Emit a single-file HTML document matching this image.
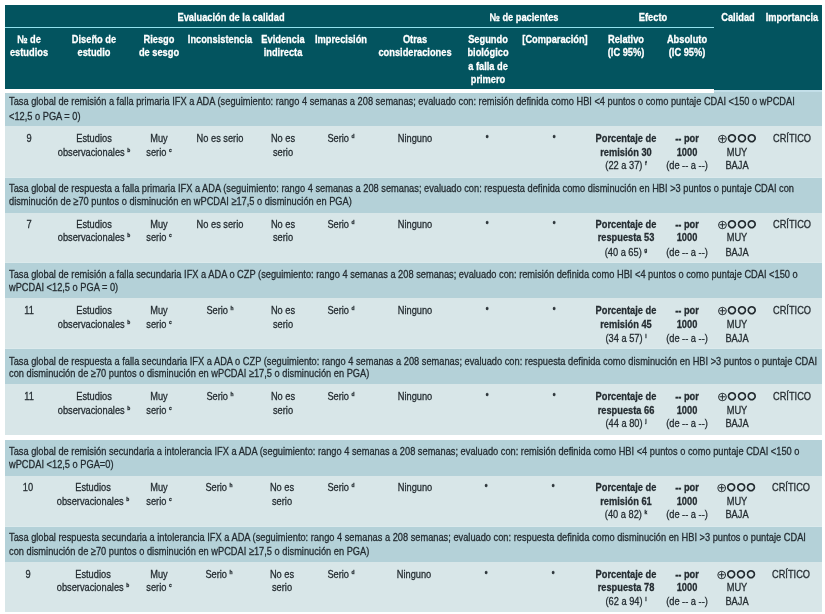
<!DOCTYPE html>
<html lang="es"><head><meta charset="utf-8"><title>Tabla</title>
<style>
html,body{margin:0;padding:0;background:#fff;}
body{width:825px;height:614px;position:relative;overflow:hidden;font-family:"Liberation Sans",Arial,sans-serif;font-size:11.3px;line-height:13px;-webkit-text-stroke:0.3px #242c31;color:#242c31;}
.r{position:absolute;}
.c{position:absolute;height:13px;text-align:center;transform:scaleX(0.82);transform-origin:50% 0;white-space:nowrap;}
.h{color:#fff;font-weight:bold;-webkit-text-stroke:0.3px #fff;}
.cap{position:absolute;width:1100px;height:13px;transform:scaleX(0.82);transform-origin:0 0;white-space:nowrap;}
sup{font-size:6px;line-height:0;vertical-align:4.2px;font-weight:bold;}
.sym{position:absolute;width:80px;height:20px;line-height:20px;text-align:center;white-space:nowrap;font-family:"DejaVu Sans",sans-serif;-webkit-text-stroke:0;}
.op{font-size:12.9px;letter-spacing:-0.1px;}
.oc{position:relative;top:-1.6px;font-size:10.1px;letter-spacing:1.1px;-webkit-text-stroke:1.05px #242c31;}
</style></head>
<body>
<div class="r" style="left:5.2px;top:5.0px;width:817.2px;height:83.8px;background:#03545f"></div>
<div class="r" style="left:714.2px;top:88.0px;width:108.2px;height:1.7px;background:#03545f"></div>
<div class="r" style="left:5.2px;top:26.7px;width:709.2px;height:1.4px;background:#93e2ee"></div>
<div class="r" style="left:714.2px;top:89.8px;width:108.2px;height:2.6px;background:#c3dfe9"></div>
<div class="c h" style="left:81.3px;top:11px;width:300px">Evaluación de la calidad</div>
<div class="c h" style="left:424.2px;top:11px;width:200px">№ de pacientes</div>
<div class="c h" style="left:603.1px;top:11px;width:100px">Efecto</div>
<div class="c h" style="left:667.5px;top:11px;width:140px">Calidad</div>
<div class="c h" style="left:721.8px;top:11px;width:140px">Importancia</div>
<div class="c h" style="left:-40.9px;top:33px;width:140px">№ de</div>
<div class="c h" style="left:-40.9px;top:46px;width:140px">estudios</div>
<div class="c h" style="left:23.8px;top:33px;width:140px">Diseño de</div>
<div class="c h" style="left:23.8px;top:46px;width:140px">estudio</div>
<div class="c h" style="left:89.3px;top:33px;width:140px">Riesgo</div>
<div class="c h" style="left:89.3px;top:46px;width:140px">de sesgo</div>
<div class="c h" style="left:150.0px;top:33px;width:140px">Inconsistencia</div>
<div class="c h" style="left:212.5px;top:33px;width:140px">Evidencia</div>
<div class="c h" style="left:212.5px;top:46px;width:140px">indirecta</div>
<div class="c h" style="left:271.3px;top:33px;width:140px">Imprecisión</div>
<div class="c h" style="left:345.2px;top:33px;width:140px">Otras</div>
<div class="c h" style="left:345.2px;top:46px;width:140px">consideraciones</div>
<div class="c h" style="left:417.6px;top:33px;width:140px">Segundo</div>
<div class="c h" style="left:417.6px;top:46px;width:140px">biológico</div>
<div class="c h" style="left:417.6px;top:60px;width:140px">a falla de</div>
<div class="c h" style="left:417.6px;top:73px;width:140px">primero</div>
<div class="c h" style="left:484.6px;top:33px;width:140px">[Comparación]</div>
<div class="c h" style="left:556.3px;top:33px;width:140px">Relativo</div>
<div class="c h" style="left:556.3px;top:46px;width:140px">(IC 95%)</div>
<div class="c h" style="left:617.4px;top:33px;width:140px">Absoluto</div>
<div class="c h" style="left:617.4px;top:46px;width:140px">(IC 95%)</div>
<div class="r" style="left:5.2px;top:92.2px;width:817.2px;height:343.1px;background:#dceaec"></div>
<div class="r" style="left:5.2px;top:440.0px;width:817.2px;height:171.7px;background:#dceaec"></div>
<div class="r" style="left:5.2px;top:92.2px;width:817.2px;height:34.1px;background:#b4d1d8"></div>
<div class="r" style="left:5.2px;top:126.3px;width:817.2px;height:50.5px;background:#d8e6e8"></div>
<div class="cap" style="left:9.3px;top:95px">Tasa global de remisión a falla primaria IFX a ADA (seguimiento: rango 4 semanas a 208 semanas; evaluado con: remisión definida como HBI &lt;4 puntos o como puntaje CDAI &lt;150 o wPCDAI</div>
<div class="cap" style="left:9.3px;top:110px">&lt;12,5 o PGA = 0)</div>
<div class="c " style="left:-40.9px;top:132px;width:140px">9</div>
<div class="c " style="left:23.8px;top:132px;width:140px">Estudios</div>
<div class="c " style="left:23.8px;top:146px;width:140px">observacionales <sup>b</sup></div>
<div class="c " style="left:89.3px;top:132px;width:140px">Muy</div>
<div class="c " style="left:89.3px;top:146px;width:140px">serio <sup>c</sup></div>
<div class="c " style="left:150.0px;top:132px;width:140px">No es serio</div>
<div class="c " style="left:212.5px;top:132px;width:140px">No es</div>
<div class="c " style="left:212.5px;top:146px;width:140px">serio</div>
<div class="c " style="left:271.3px;top:132px;width:140px">Serio <sup>d</sup></div>
<div class="c " style="left:345.2px;top:132px;width:140px">Ninguno</div>
<div class="c " style="left:417.0px;top:132px;width:140px"><sup>e</sup></div>
<div class="c " style="left:483.9px;top:132px;width:140px"><sup>e</sup></div>
<div class="c " style="left:556.3px;top:132px;width:140px"><b>Porcentaje de</b></div>
<div class="c " style="left:556.3px;top:146px;width:140px"><b>remisión 30</b></div>
<div class="c " style="left:556.3px;top:159px;width:140px">(22 a 37) <sup>f</sup></div>
<div class="c " style="left:617.4px;top:132px;width:140px"><b>-- por</b></div>
<div class="c " style="left:617.4px;top:146px;width:140px"><b>1000</b></div>
<div class="c " style="left:617.4px;top:159px;width:140px">(de -- a --)</div>
<div class="c " style="left:667.3px;top:146px;width:140px">MUY</div>
<div class="c " style="left:667.3px;top:159px;width:140px">BAJA</div>
<div class="sym" style="left:697.25px;top:128.8px"><span class="op">⊕</span><span class="oc">○○○</span></div>
<div class="c " style="left:721.6px;top:132px;width:140px">CRÍTICO</div>
<div class="r" style="left:5.2px;top:177.6px;width:817.2px;height:35.1px;background:#b4d1d8"></div>
<div class="r" style="left:5.2px;top:212.7px;width:817.2px;height:49.8px;background:#d8e6e8"></div>
<div class="cap" style="left:9.3px;top:182px">Tasa global de respuesta a falla primaria IFX a ADA (seguimiento: rango 4 semanas a 208 semanas; evaluado con: respuesta definida como disminución en HBI &gt;3 puntos o puntaje CDAI con</div>
<div class="cap" style="left:9.3px;top:195px">disminución de ≥70 puntos o disminución en wPCDAI ≥17,5 o disminución en PGA)</div>
<div class="c " style="left:-40.9px;top:218px;width:140px">7</div>
<div class="c " style="left:23.8px;top:218px;width:140px">Estudios</div>
<div class="c " style="left:23.8px;top:231px;width:140px">observacionales <sup>b</sup></div>
<div class="c " style="left:89.3px;top:218px;width:140px">Muy</div>
<div class="c " style="left:89.3px;top:231px;width:140px">serio <sup>c</sup></div>
<div class="c " style="left:150.0px;top:218px;width:140px">No es serio</div>
<div class="c " style="left:212.5px;top:218px;width:140px">No es</div>
<div class="c " style="left:212.5px;top:231px;width:140px">serio</div>
<div class="c " style="left:271.3px;top:218px;width:140px">Serio <sup>d</sup></div>
<div class="c " style="left:345.2px;top:218px;width:140px">Ninguno</div>
<div class="c " style="left:417.0px;top:218px;width:140px"><sup>e</sup></div>
<div class="c " style="left:483.9px;top:218px;width:140px"><sup>e</sup></div>
<div class="c " style="left:556.3px;top:218px;width:140px"><b>Porcentaje de</b></div>
<div class="c " style="left:556.3px;top:231px;width:140px"><b>respuesta 53</b></div>
<div class="c " style="left:556.3px;top:246px;width:140px">(40 a 65) <sup>g</sup></div>
<div class="c " style="left:617.4px;top:218px;width:140px"><b>-- por</b></div>
<div class="c " style="left:617.4px;top:231px;width:140px"><b>1000</b></div>
<div class="c " style="left:617.4px;top:246px;width:140px">(de -- a --)</div>
<div class="c " style="left:667.3px;top:231px;width:140px">MUY</div>
<div class="c " style="left:667.3px;top:246px;width:140px">BAJA</div>
<div class="sym" style="left:697.25px;top:214.8px"><span class="op">⊕</span><span class="oc">○○○</span></div>
<div class="c " style="left:721.6px;top:218px;width:140px">CRÍTICO</div>
<div class="r" style="left:5.2px;top:263.1px;width:817.2px;height:35.1px;background:#b4d1d8"></div>
<div class="r" style="left:5.2px;top:298.2px;width:817.2px;height:50.1px;background:#d8e6e8"></div>
<div class="cap" style="left:9.3px;top:268px">Tasa global de remisión a falla secundaria IFX a ADA o CZP (seguimiento: rango 4 semanas a 208 semanas; evaluado con: remisión definida como HBI &lt;4 puntos o como puntaje CDAI &lt;150 o</div>
<div class="cap" style="left:9.3px;top:281px">wPCDAI &lt;12,5 o PGA = 0)</div>
<div class="c " style="left:-40.9px;top:304px;width:140px">11</div>
<div class="c " style="left:23.8px;top:304px;width:140px">Estudios</div>
<div class="c " style="left:23.8px;top:318px;width:140px">observacionales <sup>b</sup></div>
<div class="c " style="left:89.3px;top:304px;width:140px">Muy</div>
<div class="c " style="left:89.3px;top:318px;width:140px">serio <sup>c</sup></div>
<div class="c " style="left:150.0px;top:304px;width:140px">Serio <sup>h</sup></div>
<div class="c " style="left:212.5px;top:304px;width:140px">No es</div>
<div class="c " style="left:212.5px;top:318px;width:140px">serio</div>
<div class="c " style="left:271.3px;top:304px;width:140px">Serio <sup>d</sup></div>
<div class="c " style="left:345.2px;top:304px;width:140px">Ninguno</div>
<div class="c " style="left:417.0px;top:304px;width:140px"><sup>e</sup></div>
<div class="c " style="left:483.9px;top:304px;width:140px"><sup>e</sup></div>
<div class="c " style="left:556.3px;top:304px;width:140px"><b>Porcentaje de</b></div>
<div class="c " style="left:556.3px;top:318px;width:140px"><b>remisión 45</b></div>
<div class="c " style="left:556.3px;top:332px;width:140px">(34 a 57) <sup>i</sup></div>
<div class="c " style="left:617.4px;top:304px;width:140px"><b>-- por</b></div>
<div class="c " style="left:617.4px;top:318px;width:140px"><b>1000</b></div>
<div class="c " style="left:617.4px;top:332px;width:140px">(de -- a --)</div>
<div class="c " style="left:667.3px;top:318px;width:140px">MUY</div>
<div class="c " style="left:667.3px;top:332px;width:140px">BAJA</div>
<div class="sym" style="left:697.25px;top:300.8px"><span class="op">⊕</span><span class="oc">○○○</span></div>
<div class="c " style="left:721.6px;top:304px;width:140px">CRÍTICO</div>
<div class="r" style="left:5.2px;top:349.0px;width:817.2px;height:35.0px;background:#b4d1d8"></div>
<div class="r" style="left:5.2px;top:384.0px;width:817.2px;height:51.3px;background:#d8e6e8"></div>
<div class="cap" style="left:9.3px;top:355px">Tasa global de respuesta a falla secundaria IFX a ADA o CZP (seguimiento: rango 4 semanas a 208 semanas; evaluado con: respuesta definida como disminución en HBI &gt;3 puntos o puntaje CDAI</div>
<div class="cap" style="left:9.3px;top:367px">con disminución de ≥70 puntos o disminución en wPCDAI ≥17,5 o disminución en PGA)</div>
<div class="c " style="left:-40.9px;top:390px;width:140px">11</div>
<div class="c " style="left:23.8px;top:390px;width:140px">Estudios</div>
<div class="c " style="left:23.8px;top:404px;width:140px">observacionales <sup>b</sup></div>
<div class="c " style="left:89.3px;top:390px;width:140px">Muy</div>
<div class="c " style="left:89.3px;top:404px;width:140px">serio <sup>c</sup></div>
<div class="c " style="left:150.0px;top:390px;width:140px">Serio <sup>h</sup></div>
<div class="c " style="left:212.5px;top:390px;width:140px">No es</div>
<div class="c " style="left:212.5px;top:404px;width:140px">serio</div>
<div class="c " style="left:271.3px;top:390px;width:140px">Serio <sup>d</sup></div>
<div class="c " style="left:345.2px;top:390px;width:140px">Ninguno</div>
<div class="c " style="left:417.0px;top:390px;width:140px"><sup>e</sup></div>
<div class="c " style="left:483.9px;top:390px;width:140px"><sup>e</sup></div>
<div class="c " style="left:556.3px;top:390px;width:140px"><b>Porcentaje de</b></div>
<div class="c " style="left:556.3px;top:404px;width:140px"><b>respuesta 66</b></div>
<div class="c " style="left:556.3px;top:417px;width:140px">(44 a 80) <sup>j</sup></div>
<div class="c " style="left:617.4px;top:390px;width:140px"><b>-- por</b></div>
<div class="c " style="left:617.4px;top:404px;width:140px"><b>1000</b></div>
<div class="c " style="left:617.4px;top:417px;width:140px">(de -- a --)</div>
<div class="c " style="left:667.3px;top:404px;width:140px">MUY</div>
<div class="c " style="left:667.3px;top:417px;width:140px">BAJA</div>
<div class="sym" style="left:697.25px;top:386.8px"><span class="op">⊕</span><span class="oc">○○○</span></div>
<div class="c " style="left:721.6px;top:390px;width:140px">CRÍTICO</div>
<div class="r" style="left:5.2px;top:440.0px;width:817.2px;height:35.6px;background:#b4d1d8"></div>
<div class="r" style="left:5.2px;top:475.6px;width:817.2px;height:50.5px;background:#d8e6e8"></div>
<div class="cap" style="left:8.6px;top:445px">Tasa global de remisión secundaria a intolerancia IFX a ADA (seguimiento: rango 4 semanas a 208 semanas; evaluado con: remisión definida como HBI &lt;4 puntos o como puntaje CDAI &lt;150 o</div>
<div class="cap" style="left:8.6px;top:458px">wPCDAI &lt;12,5 o PGA=0)</div>
<div class="c " style="left:-41.6px;top:481px;width:140px">10</div>
<div class="c " style="left:23.1px;top:481px;width:140px">Estudios</div>
<div class="c " style="left:23.1px;top:495px;width:140px">observacionales <sup>b</sup></div>
<div class="c " style="left:88.6px;top:481px;width:140px">Muy</div>
<div class="c " style="left:88.6px;top:495px;width:140px">serio <sup>c</sup></div>
<div class="c " style="left:149.3px;top:481px;width:140px">Serio <sup>h</sup></div>
<div class="c " style="left:211.8px;top:481px;width:140px">No es</div>
<div class="c " style="left:211.8px;top:495px;width:140px">serio</div>
<div class="c " style="left:270.6px;top:481px;width:140px">Serio <sup>d</sup></div>
<div class="c " style="left:344.5px;top:481px;width:140px">Ninguno</div>
<div class="c " style="left:416.3px;top:481px;width:140px"><sup>e</sup></div>
<div class="c " style="left:483.2px;top:481px;width:140px"><sup>e</sup></div>
<div class="c " style="left:555.6px;top:481px;width:140px"><b>Porcentaje de</b></div>
<div class="c " style="left:555.6px;top:495px;width:140px"><b>remisión 61</b></div>
<div class="c " style="left:555.6px;top:508px;width:140px">(40 a 82) <sup>k</sup></div>
<div class="c " style="left:616.7px;top:481px;width:140px"><b>-- por</b></div>
<div class="c " style="left:616.7px;top:495px;width:140px"><b>1000</b></div>
<div class="c " style="left:616.7px;top:508px;width:140px">(de -- a --)</div>
<div class="c " style="left:666.6px;top:495px;width:140px">MUY</div>
<div class="c " style="left:666.6px;top:508px;width:140px">BAJA</div>
<div class="sym" style="left:696.55px;top:477.8px"><span class="op">⊕</span><span class="oc">○○○</span></div>
<div class="c " style="left:720.9px;top:481px;width:140px">CRÍTICO</div>
<div class="r" style="left:5.2px;top:526.7px;width:817.2px;height:35.3px;background:#b4d1d8"></div>
<div class="r" style="left:5.2px;top:562.0px;width:817.2px;height:49.7px;background:#d8e6e8"></div>
<div class="cap" style="left:8.5px;top:531px">Tasa global respuesta secundaria a intolerancia IFX a ADA (seguimiento: rango 4 semanas a 208 semanas; evaluado con: respuesta definida como disminución en HBI &gt;3 puntos o puntaje CDAI</div>
<div class="cap" style="left:8.5px;top:545px">con disminución de ≥70 puntos o disminución en wPCDAI ≥17,5 o disminución en PGA)</div>
<div class="c " style="left:-41.7px;top:568px;width:140px">9</div>
<div class="c " style="left:23.0px;top:568px;width:140px">Estudios</div>
<div class="c " style="left:23.0px;top:581px;width:140px">observacionales <sup>b</sup></div>
<div class="c " style="left:88.5px;top:568px;width:140px">Muy</div>
<div class="c " style="left:88.5px;top:581px;width:140px">serio <sup>c</sup></div>
<div class="c " style="left:149.2px;top:568px;width:140px">Serio <sup>h</sup></div>
<div class="c " style="left:211.7px;top:568px;width:140px">No es</div>
<div class="c " style="left:211.7px;top:581px;width:140px">serio</div>
<div class="c " style="left:270.5px;top:568px;width:140px">Serio <sup>d</sup></div>
<div class="c " style="left:344.4px;top:568px;width:140px">Ninguno</div>
<div class="c " style="left:416.2px;top:568px;width:140px"><sup>e</sup></div>
<div class="c " style="left:483.1px;top:568px;width:140px"><sup>e</sup></div>
<div class="c " style="left:555.5px;top:568px;width:140px"><b>Porcentaje de</b></div>
<div class="c " style="left:555.5px;top:581px;width:140px"><b>respuesta 78</b></div>
<div class="c " style="left:555.5px;top:595px;width:140px">(62 a 94) <sup>l</sup></div>
<div class="c " style="left:616.6px;top:568px;width:140px"><b>-- por</b></div>
<div class="c " style="left:616.6px;top:581px;width:140px"><b>1000</b></div>
<div class="c " style="left:616.6px;top:595px;width:140px">(de -- a --)</div>
<div class="c " style="left:666.5px;top:581px;width:140px">MUY</div>
<div class="c " style="left:666.5px;top:595px;width:140px">BAJA</div>
<div class="sym" style="left:696.45px;top:564.8px"><span class="op">⊕</span><span class="oc">○○○</span></div>
<div class="c " style="left:720.8px;top:568px;width:140px">CRÍTICO</div>
<div class="r" style="left:4.2px;top:88.8px;width:710.0px;height:4.1px;background:#fff"></div>
</body></html>
